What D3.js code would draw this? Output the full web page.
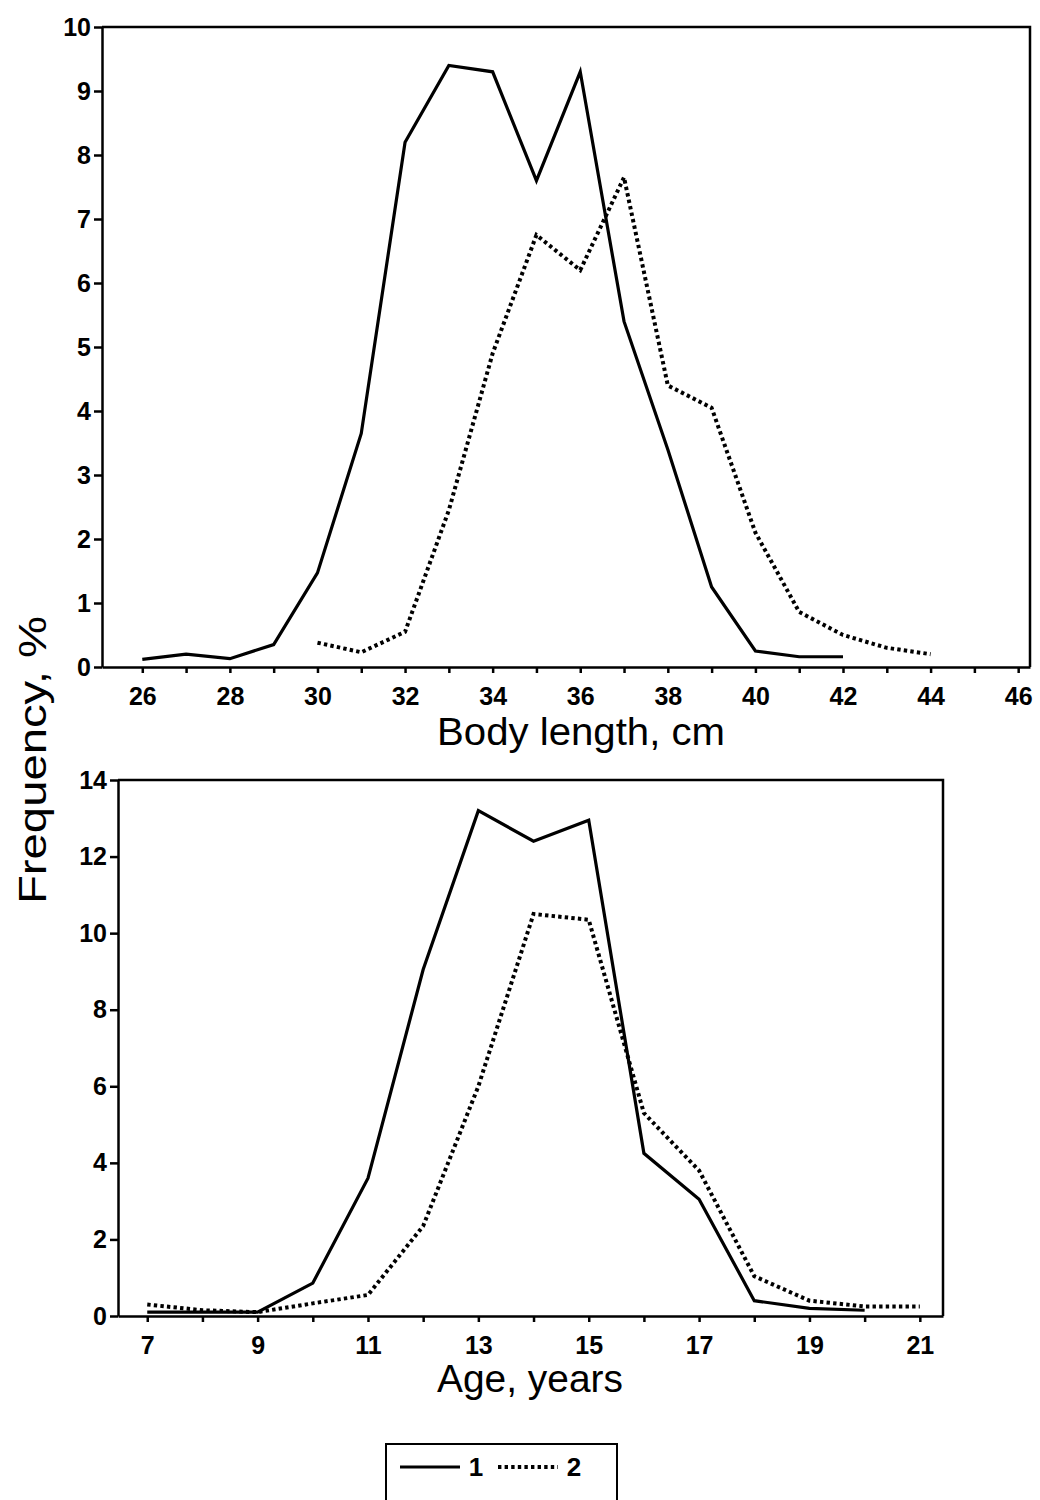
<!DOCTYPE html>
<html>
<head>
<meta charset="utf-8">
<script src="https://cdn.jsdelivr.net/npm/d3@7"></script>
<style>
  body { margin: 0; background: #fff; }
  svg { display: block; }
  .axis path, .axis line { stroke: #000; stroke-width: 2.5; }
  .axis text { font-family: "Liberation Sans", Arial, sans-serif; font-weight: bold; font-size: 25px; fill: #000; }
  .title { font-family: "Liberation Sans", Arial, sans-serif; font-size: 38px; fill: #000; }
</style>
</head>
<body>
<script>
// 上段：体長別の頻度 (%)
const lengthCm = [26, 27, 28, 29, 30, 31, 32, 33, 34, 35, 36, 37, 38, 39, 40, 41, 42, 43, 44];
const lengthFreq1 = [0.12, 0.2, 0.13, 0.35, 1.47, 3.65, 8.2, 9.4, 9.3, 7.6, 9.3, 5.4, 3.4, 1.25, 0.25, 0.16, 0.16, null, null];
const lengthFreq2 = [null, null, null, null, 0.38, 0.23, 0.55, 2.45, 4.9, 6.75, 6.2, 7.65, 4.4, 4.05, 2.1, 0.86, 0.5, 0.3, 0.2];

// 下段：年齢別の頻度 (%)
const ageYears = [7, 8, 9, 10, 11, 12, 13, 14, 15, 16, 17, 18, 19, 20, 21];
const ageFreq1 = [0.1, 0.1, 0.1, 0.86, 3.6, 9.05, 13.2, 12.4, 12.95, 4.25, 3.05, 0.4, 0.2, 0.15, null];
const ageFreq2 = [0.3, 0.15, 0.1, 0.33, 0.55, 2.35, 6.0, 10.5, 10.35, 5.3, 3.8, 1.04, 0.4, 0.25, 0.25];

const lengthTicks = d3.range(26, 47);
const ageTicks = d3.range(7, 22);
const seriesNames = ['1', '2'];

const svg = d3.select('body').append('svg')
  .attr('width', 1040)
  .attr('height', 1500);

const solidStyle = sel => sel.attr('stroke', '#000').attr('stroke-width', 3.2).attr('fill', 'none');
const dotStyle = sel => sel.attr('stroke', '#000').attr('stroke-width', 4).attr('fill', 'none')
  .attr('stroke-dasharray', '3.4,3.2');

// パネル1つ分を描く
const drawPanel = ({ xs, s1, s2, x, y, xTicks, yTicks, labelEvery }) => {
  const [x0, x1] = x.range();
  const [y0, y1] = y.range();

  // 枠の上辺と右辺
  svg.append('path')
    .attr('d', `M${x0},${y1}H${x1}V${y0}`)
    .attr('stroke', '#000').attr('stroke-width', 2.5).attr('fill', 'none');

  svg.append('g').attr('class', 'axis')
    .attr('transform', `translate(0,${y0})`)
    .call(d3.axisBottom(x).tickValues(xTicks).tickSize(6).tickSizeOuter(0).tickPadding(14)
      .tickFormat(d => labelEvery(d) ? d : ''));

  svg.append('g').attr('class', 'axis')
    .attr('transform', `translate(${x0},0)`)
    .call(d3.axisLeft(y).tickValues(yTicks).tickSize(8).tickSizeOuter(0).tickPadding(3));

  const line = d3.line()
    .defined(d => d[1] != null)
    .x(d => x(d[0]))
    .y(d => y(d[1]));

  svg.append('path').datum(d3.zip(xs, s1)).attr('d', line).call(solidStyle);
  svg.append('path').datum(d3.zip(xs, s2)).attr('d', line).call(dotStyle);
};

const xLen = d3.scaleLinear().domain([25.08, 46.27]).range([102, 1030]);
const yLen = d3.scaleLinear().domain([0, 10]).range([667, 27]);
drawPanel({
  xs: lengthCm, s1: lengthFreq1, s2: lengthFreq2,
  x: xLen, y: yLen, xTicks: lengthTicks, yTicks: d3.range(0, 11),
  labelEvery: d => d % 2 === 0
});

const xAge = d3.scaleLinear().domain([6.47, 21.42]).range([118, 943]);
const yAge = d3.scaleLinear().domain([0, 14]).range([1316, 780]);
drawPanel({
  xs: ageYears, s1: ageFreq1, s2: ageFreq2,
  x: xAge, y: yAge, xTicks: ageTicks, yTicks: d3.range(0, 15, 2),
  labelEvery: d => d % 2 === 1
});

// 軸タイトル
svg.append('text').attr('class', 'title')
  .attr('x', 581).attr('y', 745).attr('text-anchor', 'middle')
  .attr('textLength', 288).attr('lengthAdjust', 'spacingAndGlyphs')
  .text('Body length, cm');

svg.append('text').attr('class', 'title')
  .attr('x', 530).attr('y', 1392).attr('text-anchor', 'middle')
  .attr('textLength', 186).attr('lengthAdjust', 'spacingAndGlyphs')
  .text('Age, years');

svg.append('text').attr('class', 'title')
  .attr('transform', 'translate(46,760) rotate(-90)')
  .attr('text-anchor', 'middle')
  .attr('textLength', 288).attr('lengthAdjust', 'spacingAndGlyphs')
  .text('Frequency, %');

// 凡例
const legend = svg.append('g');
legend.append('rect')
  .attr('x', 386).attr('y', 1444).attr('width', 231).attr('height', 80)
  .attr('fill', 'none').attr('stroke', '#000').attr('stroke-width', 2);

const legendItems = [
  { name: seriesNames[0], x: 400, style: solidStyle },
  { name: seriesNames[1], x: 498, style: dotStyle }
];
legendItems.forEach(item => {
  legend.append('line')
    .attr('x1', item.x).attr('x2', item.x + 60)
    .attr('y1', 1467).attr('y2', 1467)
    .call(item.style);
  legend.append('text')
    .attr('x', item.x + 76).attr('y', 1476)
    .attr('text-anchor', 'middle')
    .attr('font-family', '"Liberation Sans", Arial, sans-serif')
    .attr('font-weight', 'bold').attr('font-size', 26)
    .text(item.name);
});
</script>
</body>
</html>
